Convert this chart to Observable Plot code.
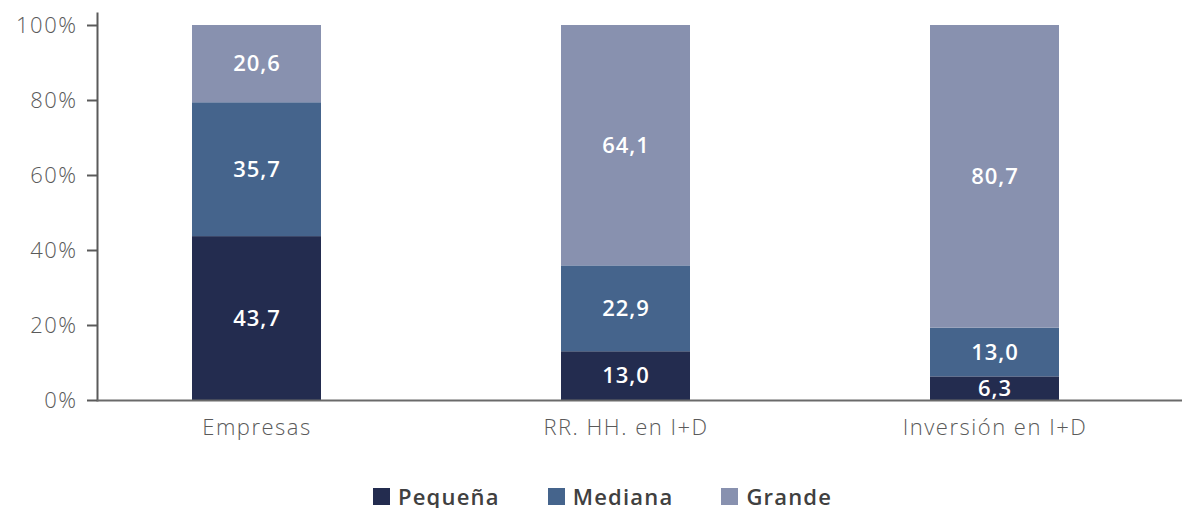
<!DOCTYPE html>
<html>
<head>
<meta charset="utf-8">
<script src="https://cdn.jsdelivr.net/npm/d3@7"></script>
<script src="https://cdn.jsdelivr.net/npm/@observablehq/plot@0.6"></script>
<style>
  body { margin: 0; background: #fff; }
  #chart svg g[aria-label="y-axis tick label"] text,
  #chart svg g[aria-label="x-axis tick label"] text { font-weight: 300; letter-spacing: 1.5px; }
  #chart svg g[aria-label="text"] text { letter-spacing: 1px; }
  .legend { display: flex; align-items: center; padding-left: 373px; gap: 48px; margin-top: 14px;
            font-family: 'Open Sans', sans-serif; font-weight: 600; font-size: 22px; color: #404040; line-height: 24px; letter-spacing: 1.2px; }
  .legend .item { display: flex; align-items: center; }
  .legend .sw { width: 17px; height: 17px; display: inline-block; margin-right: 8px; }
</style>
</head>
<body>
<div id="chart"></div>
<script>
const categories = ["Empresas", "RR. HH. en I+D", "Inversión en I+D"];
const sizes = ["Pequeña", "Mediana", "Grande"];
const pequena = [43.7, 13.0, 6.3];
const mediana = [35.7, 22.9, 13.0];
const grande = [20.6, 64.1, 80.7];
const yTicks = [0, 20, 40, 60, 80, 100];
const colors = ["#232c4f", "#45648c", "#8891af"];

const series = [pequena, mediana, grande];
const data = [];
sizes.forEach((s, i) => categories.forEach((c, j) => data.push({cat: c, size: s, value: series[i][j]})));
const fmt = v => v.toFixed(1).replace(".", ",");

const plot = Plot.plot({
  width: 1182, height: 470,
  marginLeft: 97, marginRight: 0, marginTop: 13, marginBottom: 70,
  style: {fontFamily: "'Open Sans', sans-serif", fontSize: "22px", color: "#5a5a5a", background: "#fff", overflow: "visible"},
  x: {domain: categories, paddingInner: 0.65, paddingOuter: 0.295, align: 0.436, label: null},
  y: {domain: [0, 103.2], label: null},
  color: {domain: sizes, range: colors},
  marks: [
    Plot.barY(data, {x: "cat", y: "value", fill: "size", order: sizes}),
    Plot.text(data, Plot.stackY({x: "cat", y: "value", z: "size", order: sizes, text: d => fmt(d.value), fill: "white", fontSize: 22, fontWeight: 600})),
    Plot.axisY({ticks: yTicks, tickFormat: d => d + "%", tickSize: 10, tickPadding: 10, strokeWidth: 2, label: null}),
    Plot.axisX({tickSize: 0, tickPadding: 19, label: null}),
    Plot.frame({anchor: "left", stroke: "#5a5a5a", strokeWidth: 2}),
    Plot.ruleY([0], {stroke: "#6a6a6a", strokeWidth: 2})
  ]
});
document.getElementById("chart").appendChild(plot);

const legend = document.createElement("div");
legend.className = "legend";
sizes.forEach((s, i) => {
  const it = document.createElement("span");
  it.className = "item";
  const sw = document.createElement("span");
  sw.className = "sw";
  sw.style.background = colors[i];
  it.appendChild(sw);
  it.appendChild(document.createTextNode(s));
  legend.appendChild(it);
});
document.getElementById("chart").appendChild(legend);
</script>
</body>
</html>
